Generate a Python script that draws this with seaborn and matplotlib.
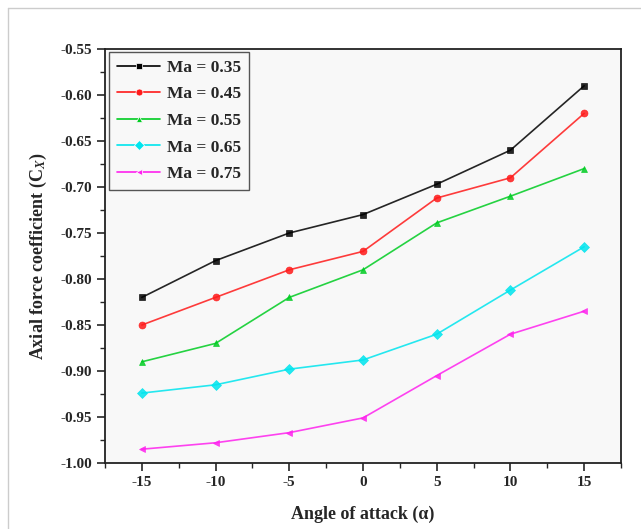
import matplotlib
matplotlib.use("Agg")
import matplotlib.pyplot as plt
import seaborn as sns
import pandas as pd
from matplotlib.ticker import MultipleLocator, FormatStrFormatter

angles = [-15, -10, -5, 0, 5, 10, 15]
ma_labels = ["Ma = 0.35", "Ma = 0.45", "Ma = 0.55", "Ma = 0.65", "Ma = 0.75"]
cx_035 = [-0.820, -0.780, -0.750, -0.730, -0.697, -0.660, -0.590]
cx_045 = [-0.850, -0.820, -0.790, -0.770, -0.712, -0.690, -0.620]
cx_055 = [-0.890, -0.870, -0.820, -0.790, -0.739, -0.710, -0.680]
cx_065 = [-0.924, -0.915, -0.898, -0.888, -0.860, -0.812, -0.765]
cx_075 = [-0.985, -0.978, -0.967, -0.951, -0.905, -0.860, -0.835]
series = [cx_035, cx_045, cx_055, cx_065, cx_075]

colors = ["#000000", "#ff1a1a", "#00cc22", "#00e5ee", "#ff22ee"]
markers = ["s", "o", "^", "D", "<"]

rows = []
for lab, vals in zip(ma_labels, series):
    for a, v in zip(angles, vals):
        rows.append({"alpha": a, "cx": v, "Ma": lab})
df = pd.DataFrame(rows)

sns.set_style("ticks")
plt.rcParams["font.family"] = ["Liberation Serif", "DejaVu Serif"]
plt.rcParams["font.weight"] = "bold"
plt.rcParams["mathtext.fontset"] = "stix"
plt.rcParams["axes.unicode_minus"] = False

fig = plt.figure(figsize=(6.41, 5.29), dpi=100)
ax = fig.add_axes([105/641, 1-463/529, (621-105)/641, (463-49)/529])
ax.set_facecolor("#f8f8f8")

sns.lineplot(data=df, x="alpha", y="cx", hue="Ma", style="Ma",
             palette=dict(zip(ma_labels, colors)),
             markers=dict(zip(ma_labels, markers)),
             dashes=False, linewidth=1.2, markersize=5,
             markeredgewidth=0.5, ax=ax)
for line, c in zip(ax.lines, colors):
    line.set_markeredgecolor(c)
    line.set_markerfacecolor(c)
    line.set_alpha(0.85)

ax.set_xlim(-17.5, 17.5)
ax.set_ylim(-1.00, -0.55)
ax.xaxis.set_major_locator(MultipleLocator(5))
ax.xaxis.set_minor_locator(MultipleLocator(2.5))
ax.yaxis.set_major_locator(MultipleLocator(0.05))
ax.yaxis.set_minor_locator(MultipleLocator(0.025))
ax.yaxis.set_major_formatter(FormatStrFormatter("%.2f"))
ax.tick_params(which="major", direction="out", length=6, width=1.2,
               labelsize=11, top=False, right=False)
ax.tick_params(which="minor", direction="out", length=3.5, width=1.0,
               top=False, right=False)
for lbl in ax.get_xticklabels() + ax.get_yticklabels():
    lbl.set_fontweight("bold")
for sp in ax.spines.values():
    sp.set_linewidth(1.3)
    sp.set_color("#222222")

ax.set_xlabel("Angle of attack (\u03b1)", fontsize=13, fontweight="bold", labelpad=12)
ax.set_ylabel("Axial force coefficient (C$_{X}$)", fontsize=13, fontweight="bold", labelpad=8)

handles, labels = ax.get_legend_handles_labels()
leg = ax.legend(handles, labels, loc="upper left", bbox_to_anchor=(0.008, 0.993),
                borderaxespad=0, frameon=True, fancybox=False,
                prop={"family": "Liberation Serif", "weight": "bold", "size": 12.5},
                handlelength=2.5, handletextpad=0.4, labelspacing=0.6,
                borderpad=0.45, edgecolor="#555555", framealpha=1)
leg.get_frame().set_linewidth(1.0)
leg.get_frame().set_facecolor("#f8f8f8")

fig.add_artist(plt.Line2D([8/641, 8/641], [0, 1-8/529], transform=fig.transFigure,
                          color="#cccccc", linewidth=1))
fig.add_artist(plt.Line2D([8/641, 1], [1-8/529, 1-8/529], transform=fig.transFigure,
                          color="#cccccc", linewidth=1))

fig.savefig("out.png", dpi=100)
